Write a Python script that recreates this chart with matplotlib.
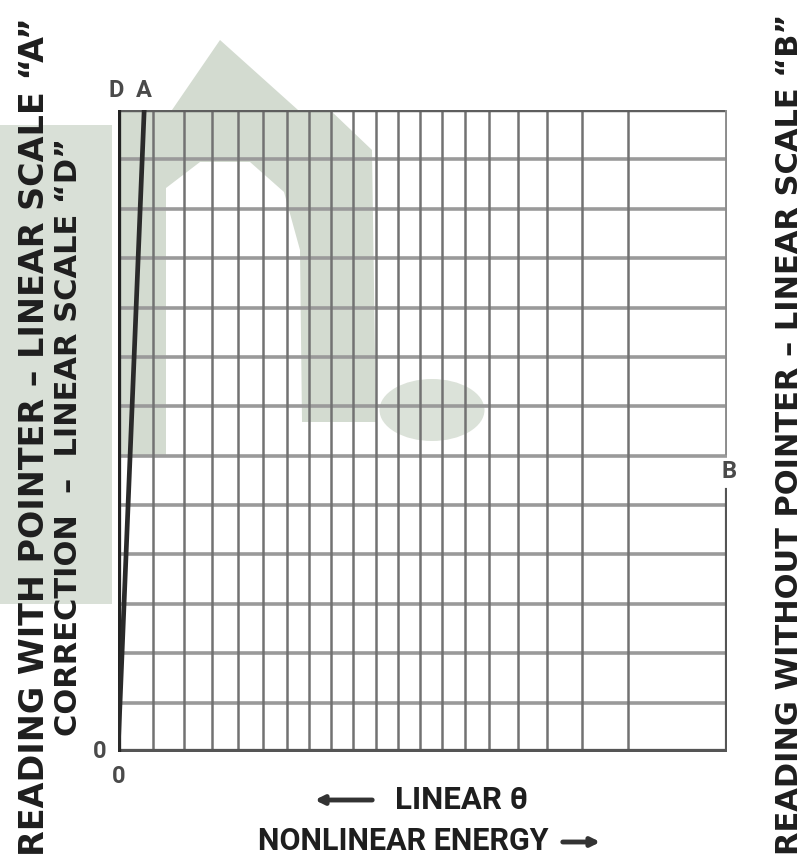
import matplotlib
matplotlib.use("Agg")
import matplotlib.pyplot as plt
from matplotlib.patches import Polygon, Ellipse

# vertical rulings on the nonlinear energy scale (percent of chart width)
v_lines = [5.75, 10.8, 15.4, 19.7, 23.8, 27.75, 31.4, 35.0, 38.6, 42.4,
           46.0, 49.6, 53.2, 57.0, 60.9, 65.7, 70.4, 76.2, 83.7]
# horizontal rulings, linear scales
h_lines = [1, 2, 3, 4, 5, 6, 7, 8, 9, 10, 11, 12]
y_max = 13
x_max = 100
# scale "A" line runs from the origin to the top edge
a_line_x = [0, 4.3]
a_line_y = [0, 13]
b_gap = [5.3, 6.05]
b_pos = 5.67

W, H = 802, 858
dpi = 100
fig = plt.figure(figsize=(W / dpi, H / dpi), dpi=dpi)

# background layer in pixel coords: faded scan watermark + all lettering
bg = fig.add_axes([0, 0, 1, 1], zorder=0)
bg.set_xlim(0, W)
bg.set_ylim(H, 0)
bg.axis("off")

wm = "#d3dbd0"
bg.add_patch(Polygon([(0, 125), (112, 125), (112, 604), (0, 604)], closed=True,
                     color=wm, lw=0, alpha=0.85))
bg.add_patch(Polygon([(118, 110), (172, 110), (220, 40), (298, 110), (330, 110),
                      (372, 150), (376, 422), (302, 422), (300, 250), (284, 192),
                      (250, 162), (200, 162), (166, 188), (166, 455), (118, 455)],
                     closed=True, color=wm, lw=0))
bg.add_patch(Ellipse((432, 410), 105, 62, color=wm, lw=0, alpha=0.8))

side = dict(fontweight="bold", color="#1e1e1e", rotation=90,
            ha="center", va="center", family="DejaVu Sans")
bg.text(35, 437, "READING WITH POINTER \u2013 LINEAR SCALE \u201cA\u201d", fontsize=24, **side)
bg.text(69, 437, "CORRECTION  \u2013  LINEAR SCALE \u201cD\u201d", fontsize=22, **side)
bg.text(789, 434, "READING WITHOUT POINTER \u2013 LINEAR SCALE \u201cB\u201d", fontsize=22, **side)

bottom = dict(fontweight="bold", color="#1e1e1e", ha="center", va="center",
              family=["Roboto", "DejaVu Sans"])
bg.text(462, 800, "LINEAR \u03b8", fontsize=22.5, **bottom)
bg.text(403, 841, "NONLINEAR ENERGY", fontsize=22, **bottom)
bg.annotate("", xy=(312, 800), xytext=(375, 800),
            arrowprops=dict(arrowstyle="-|>,head_length=0.5,head_width=0.25",
                            lw=3.5, color="#333333"))
bg.annotate("", xy=(603, 842), xytext=(560, 842),
            arrowprops=dict(arrowstyle="-|>,head_length=0.5,head_width=0.25",
                            lw=3.5, color="#333333"))

# the grid itself
ax = fig.add_axes([118 / W, 1 - 752 / H, 609 / W, 642 / H], zorder=1)
ax.set_xlim(0, x_max)
ax.set_ylim(0, y_max)
ax.axis("off")

for y in h_lines:
    ax.plot([0, x_max], [y, y], color="#9a9a9a", lw=2.6, solid_capstyle="butt")
for x in v_lines:
    ax.plot([x, x], [0, y_max], color="#727272", lw=1.8, solid_capstyle="butt")

ax.plot([0, x_max], [y_max, y_max], color="#5e5e5e", lw=3.2)
ax.plot([0, x_max], [0, 0], color="#555555", lw=4.5)
ax.plot([x_max, x_max], [b_gap[1], y_max], color="#8c8c8c", lw=2.8)
ax.plot([x_max, x_max], [0, b_gap[0]], color="#555555", lw=3.0)
ax.plot([0, 0], [0, y_max], color="#222222", lw=3.8)
ax.plot(a_line_x, a_line_y, color="#2a2a2a", lw=3.4)

lab = dict(fontsize=17, fontweight="bold", color="#4a4a4a", ha="center",
           va="center", family=["Roboto", "DejaVu Sans"], clip_on=False)
ax.text(-0.3, 13.4, "D", **lab)
ax.text(a_line_x[1], 13.4, "A", **lab)
ax.text(-3.0, 0.0, "0", **lab)
ax.text(0.1, -0.5, "0", **lab)
ax.text(x_max + 0.3, b_pos, "B", **lab)

fig.savefig("out.png", dpi=dpi)
